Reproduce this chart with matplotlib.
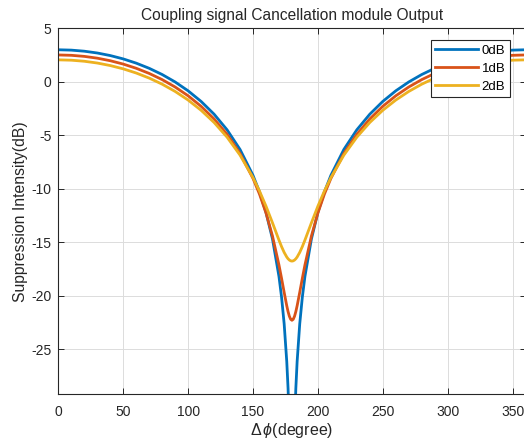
import numpy as np
import matplotlib
matplotlib.use('Agg')
import matplotlib.pyplot as plt

plt.rcParams['font.family'] = ['Liberation Sans', 'DejaVu Sans']
plt.rcParams['mathtext.fontset'] = 'custom'
plt.rcParams['mathtext.rm'] = 'Liberation Sans'
plt.rcParams['mathtext.it'] = 'Liberation Sans:italic'
plt.rcParams['axes.unicode_minus'] = False

# phase difference (degree)
phase_deg = [0, 10, 20, 30, 40, 50, 60, 70, 80, 90, 100, 110, 120, 130, 140, 150,
             155, 160, 165, 170, 172, 174, 176, 177, 178, 179, 180,
             181, 182, 183, 184, 186, 188, 190, 195, 200, 205,
             210, 220, 230, 240, 250, 260, 270, 280, 290, 300, 310, 320, 330, 340, 350, 360]

# suppression intensity (dB), amplitude mismatch 0dB
supp_0db = [3.010, 2.977, 2.877, 2.709, 2.470, 2.156, 1.761, 1.278, 0.696, 0.000,
            -0.828, -1.818, -3.010, -4.471, -6.309, -8.730,
            -10.283, -12.196, -14.676, -18.185, -20.119, -22.612, -26.126, -28.633, -32.153, -38.17, -45.0,
            -38.17, -32.153, -28.633, -26.126, -22.612, -20.119, -18.185, -14.676, -12.196, -10.283,
            -8.730, -6.309, -4.471, -3.010, -1.818, -0.828, 0.000, 0.696, 1.278, 1.761, 2.156, 2.470,
            2.709, 2.877, 2.977, 3.010]

# amplitude mismatch 1dB
supp_1db = [2.525, 2.492, 2.392, 2.225, 1.986, 1.673, 1.280, 0.799, 0.220, -0.471,
            -1.293, -2.274, -3.453, -4.891, -6.687, -9.020,
            -10.486, -12.243, -14.404, -17.111, -18.361, -19.667, -20.922, -21.467, -21.900, -22.185, -22.282,
            -22.185, -21.900, -21.467, -20.922, -19.667, -18.361, -17.111, -14.404, -12.243, -10.486,
            -9.020, -6.687, -4.891, -3.453, -2.274, -1.293, -0.471, 0.220, 0.799, 1.280, 1.673, 1.986,
            2.225, 2.392, 2.492, 2.525]

# amplitude mismatch 2dB
supp_2db = [2.068, 2.035, 1.937, 1.771, 1.535, 1.226, 0.837, 0.363, -0.207, -0.886,
            -1.691, -2.646, -3.785, -5.159, -6.840, -8.943,
            -10.197, -11.608, -13.168, -14.786, -15.394, -15.934, -16.366, -16.529, -16.648, -16.722, -16.747,
            -16.722, -16.648, -16.529, -16.366, -15.934, -15.394, -14.786, -13.168, -11.608, -10.197,
            -8.943, -6.840, -5.159, -3.785, -2.646, -1.691, -0.886, -0.207, 0.363, 0.837, 1.226, 1.535,
            1.771, 1.937, 2.035, 2.068]

labels = ['0dB', '1dB', '2dB']
colors = ['#0072BD', '#D95319', '#EDB120']

fig = plt.figure(figsize=(5.24, 4.41), dpi=100)
ax = fig.add_axes([0.1113, 0.1059, 0.8917, 0.8295])

for ys, lab, col in zip([supp_0db, supp_1db, supp_2db], labels, colors):
    ax.plot(phase_deg, ys, color=col, linewidth=2, label=lab)

ax.set_xlim(0, 360)
ax.set_ylim(-29.2, 5)
ax.set_xticks(np.arange(0, 351, 50))
ax.set_yticks(np.arange(-25, 6, 5))
ax.grid(True, color='#dcdcdc', linewidth=0.7)
ax.set_axisbelow(True)

for sp in ax.spines.values():
    sp.set_color('#262626')
    sp.set_linewidth(0.8)
ax.tick_params(direction='in', top=True, right=True, length=4, width=0.7,
               colors='#262626', labelsize=10)
ax.tick_params(axis='x', pad=8)
ax.tick_params(axis='y', pad=5)

ax.set_xlabel(r'$\Delta\,\mathit{\phi}$(degree)', fontsize=11.5, color='#262626', labelpad=1)
ax.set_ylabel('Suppression Intensity(dB)', fontsize=11.3, color='#262626', labelpad=2)
ax.set_title('Coupling signal Cancellation module Output', fontsize=11.2, color='#262626', pad=6)

leg = ax.legend(loc='upper right', bbox_to_anchor=(0.973, 0.909), bbox_transform=fig.transFigure,
                fontsize=9.5, handlelength=3.2, fancybox=False, framealpha=1,
                edgecolor='#262626', borderpad=0.35, labelspacing=0.42, handletextpad=0.3,
                borderaxespad=0)
leg.get_frame().set_linewidth(0.8)

fig.savefig('out.png', dpi=100)
